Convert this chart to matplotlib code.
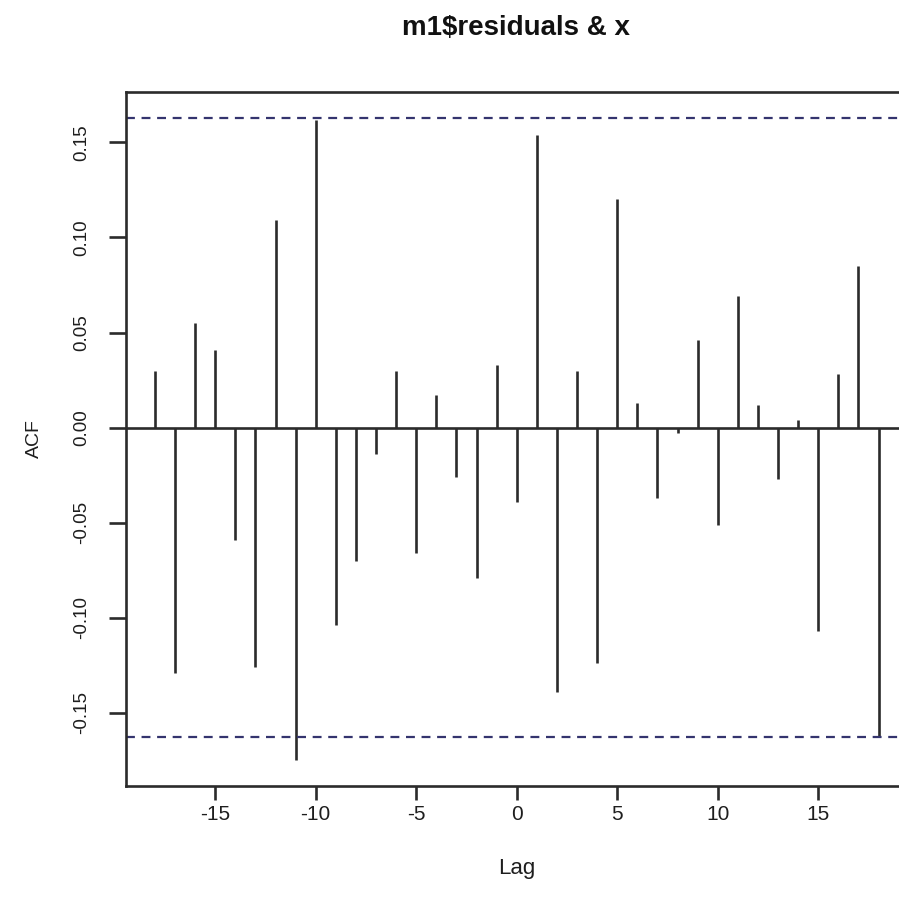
"""
Cross-correlation plot of m1 residuals against x (R-style ccf plot).
"""
import numpy as np
import matplotlib
matplotlib.use('Agg')
import matplotlib.pyplot as plt

lags = list(range(-18, 19))
acf = [0.030, -0.129, 0.055, 0.041, -0.059, -0.126, 0.109, -0.175, 0.162,
       -0.104, -0.070, -0.014, 0.030, -0.066, 0.017, -0.026, -0.079, 0.033,
       -0.039, 0.154, -0.139, 0.030, -0.124, 0.120, 0.013, -0.037, -0.003,
       0.046, -0.051, 0.069, 0.012, -0.027, 0.004, -0.107, 0.028, 0.085,
       -0.163]
clim = 0.163
x_ticks = [-15, -10, -5, 0, 5, 10, 15]
y_ticks = [-0.15, -0.10, -0.05, 0.00, 0.05, 0.10, 0.15]

plt.rcParams['font.family'] = ['Liberation Sans', 'DejaVu Sans']

W, H = 899, 905
fig = plt.figure(figsize=(W / 100, H / 100), dpi=100)
# axes box in pixels: left 126, right ~907 (cut off by the image), top 92, bottom 786
ax = fig.add_axes([126 / W, (H - 786) / H, (907.5 - 126) / W, (786 - 92) / H])

line_col = "#2b2b2b"
txt_col = "#1e1e1e"
ax.vlines(lags, 0, acf, color=line_col, linewidth=1.9)
ax.axhline(0, color=line_col, linewidth=1.9)
for c in (clim, -clim):
    ax.axhline(c, color="#34346e", linewidth=1.6, linestyle=(0, (4, 3)))

# R pads the data range by 4%
xr = max(lags) - min(lags)
ax.set_xlim(min(lags) - 0.04 * xr, max(lags) + 0.04 * xr)
ylo = min(min(acf), -clim)
yhi = max(max(acf), clim)
yr = yhi - ylo
ax.set_ylim(ylo - 0.04 * yr, yhi + 0.04 * yr)

ax.set_xticks(x_ticks)
ax.set_xticklabels([str(t) for t in x_ticks])
ax.set_yticks(y_ticks)
ax.set_yticklabels([f"{t:.2f}" for t in y_ticks], rotation=90, va="center")

for s in ax.spines.values():
    s.set_linewidth(1.9)
    s.set_color(line_col)
ax.tick_params(axis="x", length=10, width=1.9, color=line_col, labelsize=15,
               pad=4, labelcolor=txt_col)
ax.tick_params(axis="y", length=12, width=1.9, color=line_col, labelsize=13.5,
               pad=13.5, labelcolor=txt_col)

ax.set_xlabel("Lag", fontsize=16, color=txt_col, labelpad=24)
ax.set_ylabel("ACF", fontsize=14, color=txt_col, labelpad=22)
fig.text(516 / W, 1 - 28 / H, "m1$residuals & x", ha="center", va="center",
         fontsize=20, fontweight="bold", color="#111111")

fig.savefig("out.png", dpi=100)
